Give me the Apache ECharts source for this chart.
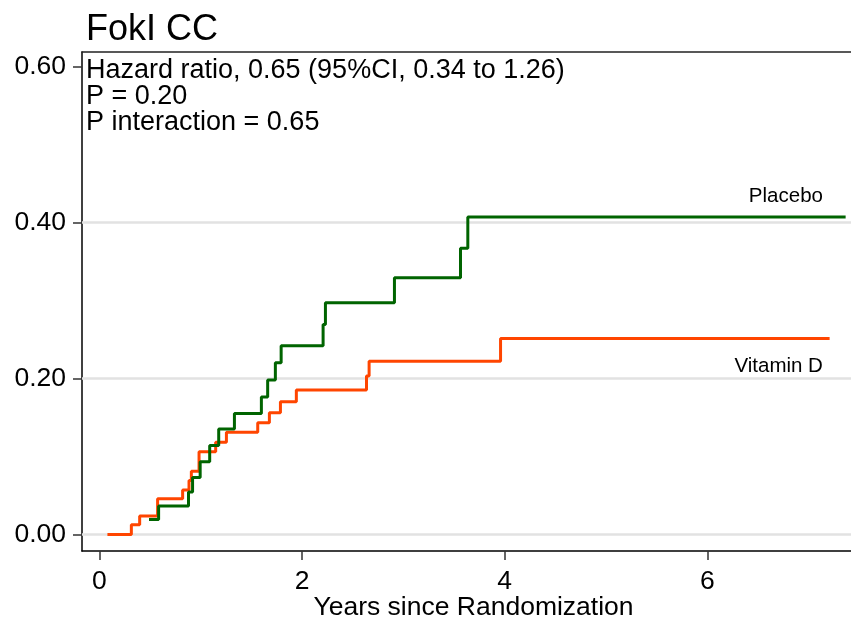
<!DOCTYPE html>
<html>
<head>
<meta charset="utf-8">
<title>FokI CC</title>
<script src="https://cdn.jsdelivr.net/npm/echarts@6/dist/echarts.min.js"></script>
<style>
  html, body { margin: 0; padding: 0; background: #fff; }
  #chart { width: 851px; height: 626px; }
</style>
</head>
<body>
<div id="chart"></div>
<script>
// Cumulative incidence (Kaplan-Meier failure) step curves by arm
const placeboTimes  = [0.49, 0.585, 0.88, 0.92, 0.995, 1.089, 1.178, 1.333, 1.599, 1.661, 1.737, 1.794, 2.208, 2.231, 2.912, 3.564, 3.636, 7.364];
const placeboValues = [0.0192, 0.0365, 0.0545, 0.073, 0.093, 0.114, 0.135, 0.155, 0.176, 0.198, 0.220, 0.242, 0.269, 0.297, 0.329, 0.367, 0.407, 0.407];

const vitaminDTimes  = [0.08, 0.316, 0.398, 0.575, 0.822, 0.885, 0.908, 0.984, 1.148, 1.254, 1.563, 1.678, 1.787, 1.944, 2.636, 2.662, 3.959, 7.206];
const vitaminDValues = [0, 0.0124, 0.0235, 0.0458, 0.0568, 0.069, 0.081, 0.106, 0.118, 0.131, 0.143, 0.156, 0.170, 0.185, 0.203, 0.222, 0.251, 0.251];

const xTicks = [0, 2, 4, 6];
const yTicks = [0, 0.2, 0.4, 0.6];
const gridValues = [0, 0.2, 0.4];

const annotationLines = [
  'Hazard ratio, 0.65 (95%CI, 0.34 to 1.26)',
  'P = 0.20',
  'P interaction = 0.65'
];

const seriesNames = ['Placebo', 'Vitamin D'];

const FONT = '"Liberation Sans", Arial, sans-serif';
const zip = (xs, ys) => xs.map((x, i) => [x, ys[i]]);

const chart = echarts.init(document.getElementById('chart'), null, { renderer: 'canvas' });

const X_MIN = -0.171, X_MAX = 7.417;
const Y_MIN = -0.0213, Y_MAX = 0.6185;

chart.setOption({
  animation: false,
  backgroundColor: '#fff',
  textStyle: { fontFamily: FONT },
  title: [
    {
      text: 'FokI CC',
      left: 86, top: 12, padding: 0,
      textStyle: { fontFamily: FONT, fontSize: 36, fontWeight: 'normal', color: '#000' }
    },
    {
      text: annotationLines.join('\n'),
      left: 86, top: 58, padding: 0,
      textStyle: { fontFamily: FONT, fontSize: 27, lineHeight: 26, fontWeight: 'normal', color: '#000' }
    }
  ],
  grid: { left: 82, top: 52, right: 0, bottom: 75, containLabel: false, outerBoundsMode: 'none' },
  xAxis: [
    {
      type: 'value', min: X_MIN, max: X_MAX, position: 'bottom',
      name: 'Years since Randomization', nameLocation: 'middle', nameGap: 43, nameMoveOverlap: false,
      nameTextStyle: { fontFamily: FONT, fontSize: 26.5, color: '#000', padding: [0, 0, 0, 14] },
      axisLine: { show: true, onZero: false, lineStyle: { color: '#000', width: 1.5 } },
      axisTick: { show: true, length: 9, customValues: xTicks, lineStyle: { color: '#333', width: 1.5 } },
      axisLabel: { customValues: xTicks, margin: 17, fontFamily: FONT, fontSize: 26.5, color: '#000',
                   formatter: v => String(v) },
      splitLine: { show: false }
    },
    {
      type: 'value', min: X_MIN, max: X_MAX, position: 'top',
      axisLine: { show: true, onZero: false, lineStyle: { color: '#222', width: 1.5 } },
      axisTick: { show: false }, axisLabel: { show: false }, splitLine: { show: false }
    }
  ],
  yAxis: {
    type: 'value', min: Y_MIN, max: Y_MAX,
    axisLine: { show: true, onZero: false, lineStyle: { color: '#000', width: 1.5 } },
    axisTick: { show: true, length: 9, customValues: yTicks, lineStyle: { color: '#333', width: 1.5 } },
    axisLabel: { customValues: yTicks, margin: 16, fontFamily: FONT, fontSize: 26.5, color: '#000',
                 formatter: v => v.toFixed(2) },
    splitLine: { show: false }
  },
  series: [
    {
      name: 'gridlines', type: 'line', data: [], z: 1, silent: true,
      markLine: {
        silent: true, symbol: 'none', label: { show: false }, animation: false, z: 1,
        lineStyle: { color: '#e2e2e2', width: 2.5, type: 'solid' },
        data: gridValues.map(v => ({ yAxis: v }))
      }
    },
    {
      name: seriesNames[0], type: 'line', step: 'end', z: 3,
      data: zip(placeboTimes, placeboValues),
      showSymbol: false, symbol: 'none',
      lineStyle: { color: '#006400', width: 3 }
    },
    {
      name: seriesNames[1], type: 'line', step: 'end', z: 2,
      data: zip(vitaminDTimes, vitaminDValues),
      showSymbol: false, symbol: 'none',
      lineStyle: { color: '#ff4500', width: 3 }
    },
    {
      name: 'curve labels', type: 'scatter', symbolSize: 0, z: 4, silent: true,
      itemStyle: { opacity: 1 },
      data: [
        { value: [7.14, 0.4335], name: seriesNames[0] },
        { value: [7.14, 0.2155], name: seriesNames[1] }
      ],
      label: {
        show: true, position: 'left', distance: 0, opacity: 1,
        formatter: p => p.name,
        fontFamily: FONT, fontSize: 20.5, color: '#000'
      }
    }
  ]
});
</script>
</body>
</html>
